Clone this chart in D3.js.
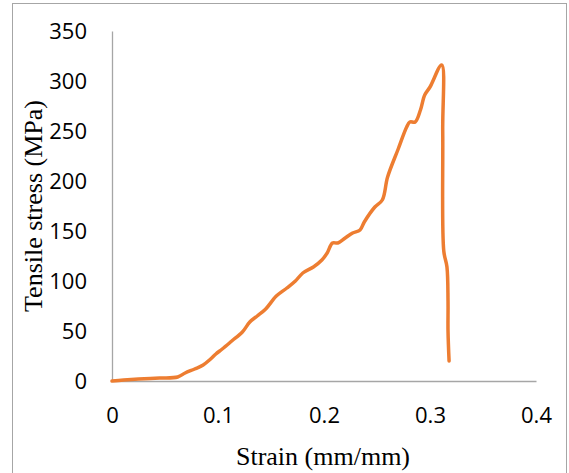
<!DOCTYPE html>
<html>
<head>
<meta charset="utf-8">
<script src="https://cdn.jsdelivr.net/npm/d3@7"></script>
<style>
  body { margin: 0; background: #fff; }
  .tick text { font-family: "Open Sans", "Noto Sans", sans-serif; }
</style>
</head>
<body>
<svg id="chart" width="569" height="473"></svg>
<script>
// courbe contrainte / déformation
const strain = [0, 0.011, 0.025, 0.045, 0.062, 0.069, 0.078, 0.086, 0.093, 0.098, 0.104,
  0.113, 0.123, 0.13, 0.137, 0.145, 0.155, 0.165, 0.173, 0.18, 0.19, 0.198, 0.203, 0.208,
  0.213, 0.22, 0.227, 0.234, 0.238, 0.248, 0.255, 0.26, 0.27, 0.278, 0.281, 0.286, 0.291,
  0.295, 0.3, 0.311, 0.312, 0.313, 0.316, 0.317, 0.317, 0.318];
const stress = [0, 1, 2, 3, 4, 8, 12, 16, 22, 27, 32,
  40, 49, 59, 65, 72, 85, 93, 100, 108, 114, 121, 128, 138,
  138, 143, 148, 151, 159, 174, 181, 204, 232, 254, 259, 259, 271,
  286, 294, 316, 250, 130, 114, 80, 50, 20];
const xTicks = [0, 0.1, 0.2, 0.3, 0.4];
const yTicks = [0, 50, 100, 150, 200, 250, 300, 350];

const svg = d3.select("#chart");

// cadre gris autour du graphique
svg.append("rect")
  .attr("x", 12.5).attr("y", 3.5)
  .attr("width", 554).attr("height", 480)
  .attr("fill", "none").attr("stroke", "#a6a6a6").attr("stroke-width", 1);

const x = d3.scaleLinear().domain([0, 0.4]).range([112, 536]);
const y = d3.scaleLinear().domain([0, 350]).range([381, 31]);

const axeX = svg.append("g")
  .attr("transform", `translate(0, ${y(0)})`)
  .call(d3.axisBottom(x).tickValues(xTicks).tickSize(0).tickPadding(26).tickFormat(d => d));
axeX.select(".domain").attr("stroke", "#a6a6a6").attr("stroke-width", 1.3);
axeX.selectAll("text").style("font-size", "22px").attr("fill", "#000");

const axeY = svg.append("g")
  .attr("transform", `translate(${x(0)}, 0)`)
  .call(d3.axisLeft(y).tickValues(yTicks).tickSize(0).tickPadding(25));
axeY.select(".domain").attr("stroke", "#a6a6a6").attr("stroke-width", 1.3);
axeY.selectAll("text").style("font-size", "22px").attr("fill", "#000");

const points = strain.map((s, i) => [s, stress[i]]);
const ligne = d3.line()
  .x(d => x(d[0]))
  .y(d => y(d[1]))
  .curve(d3.curveCatmullRom.alpha(0.5));

svg.append("path")
  .datum(points)
  .attr("d", ligne)
  .attr("fill", "none")
  .attr("stroke", "#ed7d31")
  .attr("stroke-width", 3.5)
  .attr("stroke-linejoin", "round")
  .attr("stroke-linecap", "round");

// titres des axes
svg.append("text")
  .attr("x", 323).attr("y", 465)
  .attr("text-anchor", "middle")
  .style("font-family", "'Liberation Serif', serif")
  .style("font-size", "26px")
  .text("Strain (mm/mm)");

svg.append("text")
  .attr("transform", "translate(42, 206) rotate(-90)")
  .attr("text-anchor", "middle")
  .style("font-family", "'Liberation Serif', serif")
  .style("font-size", "26px")
  .text("Tensile stress (MPa)");
</script>
</body>
</html>
